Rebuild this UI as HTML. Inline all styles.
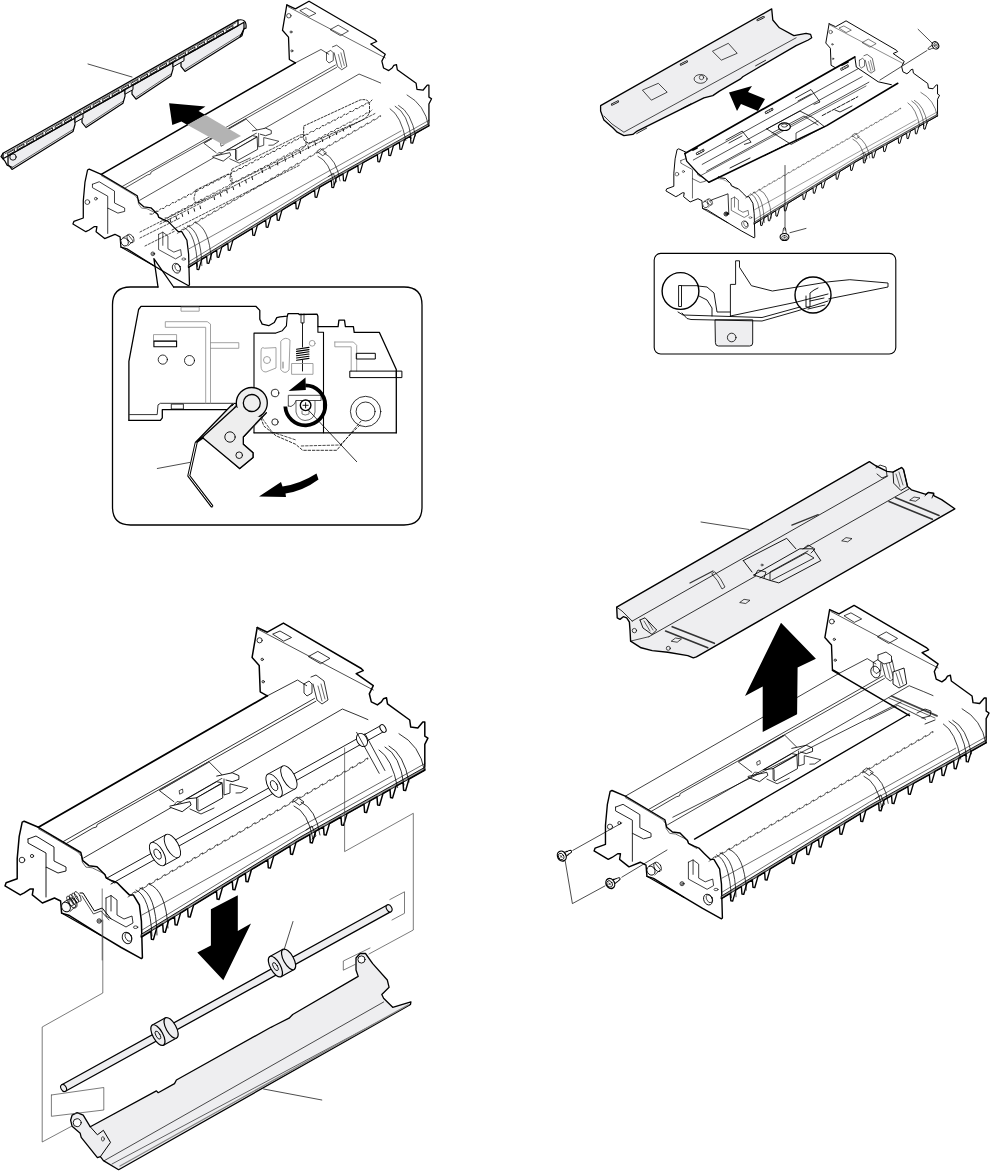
<!DOCTYPE html>
<html><head><meta charset="utf-8"><style>
html,body{margin:0;padding:0;background:#fff;}
svg{display:block;}
</style></head><body>
<svg width="990" height="1172" viewBox="0 0 990 1172" stroke-linejoin="round" stroke-linecap="round">
<defs><g id="fb"><path d="M257.2,627.5 L267.3,632.2 L283.4,623.1 L361.2,668.5 L363.2,670.6 L356.2,673.6 L373.3,685.7 L369.3,693.8 L371.3,701.9 L377.4,704.9 L381.4,701.9 L383.4,698.8 L386.5,697.8 L387.5,703.9 L409.7,720.0 L410.7,727.1 L417.8,728.1 L422.8,722.1 L424.8,722.1 L424.8,736.2 L427.9,738.2 L424.8,744.3 L424.8,766.5" fill="none" stroke="#000" stroke-width="1.5" />
<path d="M257.2,627.5 L252.1,657.4 L259.2,665.5 L260.2,691.8 L267.3,695.8" fill="none" stroke="#000" stroke-width="1.5" />
<path d="M258.5,629.5 L373.3,690.0" fill="none" stroke="#000" stroke-width="0.7" />
<circle cx="259.6" cy="640.3" r="2.6" fill="none" stroke="#000" stroke-width="0.8"/>
<circle cx="262.2" cy="659.4" r="1.2" fill="none" stroke="#000" stroke-width="0.8"/>
<circle cx="263.2" cy="681.7" r="1.2" fill="none" stroke="#000" stroke-width="0.8"/>
<path d="M308.7,656.4 L317.8,651.4 L329.9,658.4 L320.8,663.5 Z" fill="none" stroke="#000" stroke-width="0.8" />
<path d="M273.0,634.0 L280.0,631.0 L291.5,637.5 L284.0,641.0 Z" fill="none" stroke="#000" stroke-width="0.8" />
<path d="M24.2,821.2 L22.2,822.2 L19.2,836.4 L17.2,858.6 L17.2,878.8 L6.1,882.8 L5.0,885.9 L20.2,894.9 L24.2,892.9 L30.3,888.9 L33.3,888.9 L32.3,894.9 L42.4,903.0 L54.5,898.0 L60.6,901.0 L61.6,913.1 L68.7,915.2 L101.0,935.4 L121.2,947.5 L141.4,958.6 L142.4,957.6 L141.4,921.2 L139.4,905.0 L133.3,894.9 L129.3,894.9 L123.2,888.9 L117.2,882.8 L112.1,880.8 L106.1,877.8 L105.0,874.7 L97.0,866.7 L88.9,865.7 L82.8,860.6 L80.8,852.5 L38.4,827.3 Z" fill="#fff" stroke="#000" stroke-width="1.5" />
<path d="M28.0,839.0 L36.0,836.0 L54.0,847.0 L54.0,861.0 L66.0,867.0 L66.0,871.0 L58.0,873.0 L46.0,867.0 L46.0,897.0" fill="none" stroke="#000" stroke-width="0.9" />
<path d="M28.0,839.0 L28.0,843.0 L46.0,853.0 L46.0,867.0" fill="none" stroke="#000" stroke-width="0.9" />
<circle cx="22" cy="860" r="2.8" fill="none" stroke="#000" stroke-width="0.8"/>
<circle cx="32" cy="856" r="1.6" fill="none" stroke="#000" stroke-width="0.8"/>
<path d="M141.4,937.0 L300.0,840.0 L425.0,770.0 L425.0,767.2 L300.0,837.2 L141.4,934.2 Z" fill="#9a9a9a" stroke="#000" stroke-width="0.9" />
<path d="M141.4,937.0 L150.8,931.3 L151.4,939.3 L153.4,939.6 L156.8,927.6 L162.7,924.0 L163.3,932.0 L165.3,932.3 L168.7,920.3 L174.5,916.8 L175.1,924.8 L177.1,925.1 L180.5,913.1 L187.6,908.7 L188.2,916.7 L190.2,917.0 L193.6,905.1 L216.5,891.1 L217.1,899.1 L219.1,899.4 L222.5,887.4 L232.3,881.4 L232.9,889.4 L234.9,889.7 L238.3,877.7 L245.4,873.4 L246.0,881.4 L248.0,881.7 L251.4,869.7 L267.7,859.8 L268.3,867.8 L270.3,868.1 L273.7,856.1 L290.0,846.1 L290.6,854.1 L292.6,854.4 L296.0,842.4 L309.7,834.6 L310.3,842.6 L312.3,842.9 L315.7,831.2 L323.5,826.8 L324.1,834.8 L326.1,835.1 L329.5,823.5 L341.0,817.0 L341.6,825.0 L343.6,825.3 L347.0,813.7 L364.0,804.2 L364.6,812.2 L366.6,812.5 L370.0,800.8 L377.0,796.9 L377.6,804.9 L379.6,805.2 L383.0,793.5 L390.0,789.6 L390.6,797.6 L392.6,797.9 L396.0,786.2 L403.0,782.3 L403.6,790.3 L405.6,790.6 L409.0,779.0 L425.0,770.0" fill="none" stroke="#000" stroke-width="1.5" />
<path d="M142.0,930.1 L300.0,833.5 L425.0,763.5" fill="none" stroke="#000" stroke-width="0.6" />
<path d="M136,890 Q150,896 152,936" fill="none" stroke="#000" stroke-width="0.8" />
<path d="M140,888 Q156,893 157,935" fill="none" stroke="#000" stroke-width="0.8" />
<path d="M149,884 Q166,890 168,928" fill="none" stroke="#000" stroke-width="0.8" />
<path d="M379,750 Q392,758 397.6,787.5" fill="none" stroke="#000" stroke-width="0.8" />
<path d="M385,747 Q400,755 404,785" fill="none" stroke="#000" stroke-width="0.8" />
<path d="M389,746 Q404,754 409,782" fill="none" stroke="#000" stroke-width="0.8" />
<path d="M399,733.7 Q420,745 424.5,770.5" fill="none" stroke="#000" stroke-width="0.8" />
<path d="M294,806 Q308,812 313,839" fill="none" stroke="#000" stroke-width="0.8" />
<path d="M301,802 Q316,809 320,835" fill="none" stroke="#000" stroke-width="0.8" />
<path d="M293.0,800.0 L297.0,797.0 L304.0,802.0 L300.0,805.0 Z" fill="none" stroke="#000" stroke-width="0.8" />
<path d="M306.0,830.0 L312.0,826.0 L316.0,836.0 L312.0,839.0" fill="none" stroke="#000" stroke-width="0.8" />
<path d="M128.0,897.0 L132.1,894.6 L132.4,893.2 L135.2,891.6 L134.9,893.0 L135.5,892.7 L139.6,890.3 L139.9,888.9 L142.7,887.3 L142.4,888.7 L143.0,888.4 L147.1,886.0 L147.4,884.6 L150.2,883.0 L149.9,884.4 L150.5,884.1 L154.6,881.7 L154.9,880.3 L157.7,878.7 L157.4,880.1 L158.0,879.8 L162.1,877.4 L162.4,876.0 L165.2,874.4 L164.9,875.8 L165.5,875.4 L169.6,873.1 L169.9,871.7 L172.7,870.1 L172.4,871.5 L173.0,871.1 L177.1,868.8 L177.4,867.4 L180.2,865.8 L179.9,867.2 L180.5,866.8 L184.6,864.4 L184.9,863.0 L187.7,861.4 L187.4,862.8 L188.0,862.5 L192.1,860.1 L192.4,858.7 L195.2,857.1 L194.9,858.5 L195.5,858.2 L199.6,855.8 L199.9,854.4 L202.7,852.8 L202.4,854.2 L203.0,853.9 L207.1,851.5 L207.4,850.1 L210.2,848.5 L209.9,849.9 L210.5,849.6 L214.6,847.2 L214.9,845.8 L217.7,844.2 L217.4,845.6 L218.0,845.2 L222.1,842.9 L222.4,841.5 L225.2,839.9 L224.9,841.3 L225.5,840.9 L229.6,838.6 L229.9,837.2 L232.7,835.6 L232.4,837.0 L233.0,836.6 L237.1,834.3 L237.4,832.9 L240.2,831.3 L239.9,832.7 L240.5,832.3 L244.6,829.9 L244.9,828.5 L247.7,826.9 L247.4,828.3 L248.0,828.0 L252.1,825.6 L252.4,824.2 L255.2,822.6 L254.9,824.0 L255.5,823.7 L259.6,821.3 L259.9,819.9 L262.7,818.3 L262.4,819.7 L263.0,819.4 L267.1,817.0 L267.4,815.6 L270.2,814.0 L269.9,815.4 L270.5,815.1 L274.6,812.7 L274.9,811.3 L277.7,809.7 L277.4,811.1 L278.0,810.8 L282.1,808.4 L282.4,807.0 L285.2,805.4 L284.9,806.8 L285.5,806.4 L289.6,804.1 L289.9,802.7 L292.7,801.1 L292.4,802.5 L293.0,802.1 L297.1,799.8 L297.4,798.4 L300.2,796.8 L299.9,798.2 L300.5,797.8 L304.6,795.4 L304.9,794.0 L307.7,792.4 L307.4,793.8 L308.0,793.5 L312.1,791.1 L312.4,789.7 L315.2,788.1 L314.9,789.5 L315.5,789.2 L319.6,786.8 L319.9,785.4 L322.7,783.8 L322.4,785.2 L323.0,784.9 L327.1,782.5 L327.4,781.1 L330.2,779.5 L329.9,780.9 L330.5,780.6 L334.6,778.2 L334.9,776.8 L337.7,775.2 L337.4,776.6 L338.0,776.2 L342.1,773.9 L342.4,772.5 L345.2,770.9 L344.9,772.3 L345.5,771.9 L349.6,769.6 L349.9,768.2 L352.7,766.6 L352.4,768.0 L353.0,767.6 L357.1,765.3 L357.4,763.9 L360.2,762.3 L359.9,763.7 L360.5,763.3 L364.6,760.9 L364.9,759.5 L367.7,757.9 L367.4,759.3 L368.0,759.0" fill="none" stroke="#000" stroke-width="0.65" />
<path d="M142.0,915.0 L392.0,776.0" fill="none" stroke="#000" stroke-width="0.6" />
<ellipse cx="66" cy="907" rx="4.2" ry="5" transform="rotate(-30 66 907)" fill="#fff" stroke="#000" stroke-width="0.9"/>
<path d="M64.0,902.0 L70.0,898.5 L76.0,906.0 L70.0,911.5" fill="none" stroke="#000" stroke-width="0.8" />
<ellipse cx="73" cy="903" rx="3.5" ry="5.5" transform="rotate(-30 73 903)" fill="none" stroke="#000" stroke-width="0.8"/>
<circle cx="99.2" cy="921" r="2.2" fill="none" stroke="#000" stroke-width="0.8"/>
<circle cx="99.2" cy="921" r="1.1" fill="none" stroke="#000" stroke-width="0.6"/>
<path d="M106.0,898.0 L111.0,895.5 L117.0,900.0 L117.0,915.0 L124.0,919.0 L132.0,916.0 L133.0,923.0 L126.0,927.0 L106.0,916.0 L106.0,898.0" fill="none" stroke="#000" stroke-width="0.8" />
<path d="M111.0,895.5 L111.0,911.0" fill="none" stroke="#000" stroke-width="0.8" />
<ellipse cx="127" cy="938" rx="4.5" ry="6" transform="rotate(-25 127 938)" fill="none" stroke="#000" stroke-width="0.9"/>
<ellipse cx="128.5" cy="937" rx="3" ry="4.5" transform="rotate(-25 128.5 937)" fill="none" stroke="#000" stroke-width="0.7"/>
<ellipse cx="135.6" cy="927.2" rx="2.2" ry="1.3" fill="none" stroke="#000" stroke-width="0.7"/>
<path d="M61.6,913.1 L101.0,935.4" fill="none" stroke="#000" stroke-width="1.2" />
<path d="M38.5,828.9 L49.8,835.3 L78.1,852.2 L81.6,856.5 L82.3,862.1 L85.9,867.1 L92.2,867.8 L105.0,874.1 L106.4,878.4 L114.9,883.3" fill="none" stroke="#000" stroke-width="0.6" /></g><g id="fc"><path d="M38.4,827.3 L267.3,695.8" fill="none" stroke="#000" stroke-width="1.8" />
<path d="M63.2,841.6 L314.5,698.4" fill="none" stroke="#000" stroke-width="0.8" />
<path d="M66.0,843.7 L92.9,828.0 L96.5,827.0 L97.2,824.5 L315.9,701.2" fill="none" stroke="#000" stroke-width="0.8" />
<path d="M83.7,857.9 L342.4,709.0 L358.0,715.4 L367.9,719.6" fill="none" stroke="#000" stroke-width="0.8" />
<path d="M267.8,695.6 L297.5,680.0 L306.7,685.7" fill="none" stroke="#000" stroke-width="0.8" />
<path d="M304.0,684.0 L309.0,681.0 L312.0,684.0 L312.0,693.0 L307.0,696.0 L304.0,693.0 L304.0,684.0" fill="none" stroke="#000" stroke-width="0.8" />
<path d="M311.0,677.0 L316.0,675.0 L324.0,681.0 L328.0,700.0 L322.0,704.0 L317.0,700.0 L313.0,684.0" fill="none" stroke="#000" stroke-width="0.8" />
<path d="M318.0,686.0 L322.0,701.0" fill="none" stroke="#000" stroke-width="0.6" />
<path d="M321.0,684.0 L325.0,699.0" fill="none" stroke="#000" stroke-width="0.6" /></g><g id="fc3"><path d="M38.4,827.3 L267.3,695.8" fill="none" stroke="#000" stroke-width="0.8" />
<path d="M63.2,841.6 L314.5,698.4" fill="none" stroke="#000" stroke-width="0.8" />
<path d="M66.0,843.7 L92.9,828.0 L96.5,827.0 L97.2,824.5 L315.9,701.2" fill="none" stroke="#000" stroke-width="0.8" />
<path d="M83.7,857.9 L342.4,709.0 L358.0,715.4 L367.9,719.6" fill="none" stroke="#000" stroke-width="0.8" />
<path d="M267.8,695.6 L297.5,680.0 L306.7,685.7" fill="none" stroke="#000" stroke-width="0.8" />
<path d="M304.0,684.0 L309.0,681.0 L312.0,684.0 L312.0,693.0 L307.0,696.0 L304.0,693.0 L304.0,684.0" fill="none" stroke="#000" stroke-width="0.8" />
<path d="M311.0,677.0 L316.0,675.0 L324.0,681.0 L328.0,700.0 L322.0,704.0 L317.0,700.0 L313.0,684.0" fill="none" stroke="#000" stroke-width="0.8" />
<path d="M318.0,686.0 L322.0,701.0" fill="none" stroke="#000" stroke-width="0.6" />
<path d="M321.0,684.0 L325.0,699.0" fill="none" stroke="#000" stroke-width="0.6" /></g><g id="fm"><path d="M173.9,801.7 L159.4,790.6 L208.9,761.7 L222.2,775.0" fill="none" stroke="#000" stroke-width="0.8" />
<path d="M161.0,789.5 L208.0,762.5" fill="none" stroke="#444" stroke-width="1.4" />
<path d="M179.5,790.5 L182.5,789.0 L183.0,792.5 L180.0,794.0 Z" fill="none" stroke="#000" stroke-width="0.7" />
<path d="M186.7,798.9 L216.7,781.7 L222.2,782.8 L196.7,797.8 L186.7,798.9" fill="#fff" stroke="#000" stroke-width="0.9" />
<path d="M196.7,797.8 L222.2,783.3 L222.8,797.8 L198.9,811.1 L196.7,809.4 L196.7,797.8" fill="#fff" stroke="#000" stroke-width="0.9" />
<path d="M198.0,799.0 L198.0,810.0" fill="none" stroke="#000" stroke-width="0.6" />
<path d="M170.0,806.1 L190.0,801.7 L191.1,805.0 L182.2,811.7 L170.0,807.2" fill="#fff" stroke="#000" stroke-width="0.9" />
<path d="M174.0,805.0 L177.0,801.5 L181.0,802.0" fill="none" stroke="#000" stroke-width="0.7" />
<path d="M216.7,776.1 L232.2,772.8 L238.9,775.6 L238.9,779.4 L232.2,781.7 L226.0,780.0" fill="#fff" stroke="#000" stroke-width="0.9" />
<path d="M224.0,779.0 L224.0,795.0 L230.0,793.0 L230.0,783.9 L247.8,788.3 L241.1,792.8 L236.0,793.0" fill="none" stroke="#000" stroke-width="0.8" />
<path d="M190.0,809.0 L201.0,814.0 L214.0,808.0" fill="none" stroke="#000" stroke-width="0.8" /></g></defs>
<use href="#fb" transform="matrix(1.0,0,0,1.0,0,0)"/>
<use href="#fb" transform="matrix(0.848,0,0,0.848,68.7,-527.2)"/>
<use href="#fb" transform="matrix(0.934,0,0,0.934,589.4,23.5)"/>
<use href="#fb" transform="matrix(0.647,0,0,0.647,662.7,-382.3)"/>
<use href="#fc" transform="matrix(1.0,0,0,1.0,0,0)"/>
<use href="#fc" transform="matrix(0.848,0,0,0.848,68.7,-527.2)"/>
<use href="#fm" transform="matrix(1.0,0,0,1.0,0,0)"/>
<use href="#fm" transform="matrix(0.848,0,0,0.848,68.7,-527.2)"/>
<use href="#fm" transform="matrix(0.934,0,0,0.934,589.4,23.5)"/>
<use href="#fc3" transform="matrix(0.934,0,0,0.934,589.4,23.5)"/>
<g transform="matrix(0.934,0,0,0.934,589.4,23.5)"><path d="M112.6,873.2 L342.3,739.3" fill="none" stroke="#000" stroke-width="1.5" /><path d="M89.3,849.8 L333.8,726.4" fill="none" stroke="#000" stroke-width="0.8" /><path d="M300.0,745.0 L330.0,730.0 L360.0,745.0" fill="none" stroke="#000" stroke-width="0.8" /></g>
<path d="M832.4,670.3 L909.5,715.6" fill="none" stroke="#000" stroke-width="1.5" />
<path d="M891.5,696.0 L937.0,715.8" fill="none" stroke="#444" stroke-width="1.8" />
<path d="M889.0,698.0 L935.0,718.0" fill="none" stroke="#000" stroke-width="0.6" />
<path d="M893.0,672.0 L904.0,668.0 L906.7,684.0 L899.0,688.0 L893.0,684.0 L893.0,672.0" fill="#fff" stroke="#000" stroke-width="0.9" />
<path d="M896.0,673.0 L900.0,686.0" fill="none" stroke="#000" stroke-width="0.6" />
<path d="M899.0,671.0 L903.0,684.0" fill="none" stroke="#000" stroke-width="0.6" />
<path d="M878.0,655.0 L886.0,652.0 L891.5,656.0 L891.5,662.0 L884.0,664.0 L878.0,660.0 L878.0,655.0" fill="#fff" stroke="#000" stroke-width="0.8" />
<ellipse cx="875.5" cy="672" rx="4.5" ry="6" transform="rotate(-20 875.5 672)" fill="none" stroke="#000" stroke-width="0.8"/>
<path d="M917.0,713.0 L925.0,709.0 L931.0,711.0 L930.0,716.0 L922.0,718.0" fill="none" stroke="#000" stroke-width="0.8" />
<path d="M925.0,724.0 L935.0,720.0" fill="none" stroke="#000" stroke-width="0.8" />
<path d="M684.9,153.5 L854.8,56.9 L856.3,67.1 L878.2,81.8 L891.4,84.7 L708.3,181.4 L718.6,182.8 L706.9,179.9 L687.8,165.3 L684.9,153.5" fill="#fff" stroke="#fff" stroke-width="0.2" />
<path d="M684.9,153.5 L854.8,56.9" fill="none" stroke="#000" stroke-width="1.7" />
<path d="M854.8,56.9 L856.3,67.1 L878.2,81.8 L891.4,84.7" fill="none" stroke="#000" stroke-width="1.0" />
<path d="M708.9,182.2 L826.7,125.6 L897.8,83.3" fill="none" stroke="#000" stroke-width="1.6" />
<path d="M684.9,153.5 L686.7,161.1 L697.8,173.3 L708.9,182.2" fill="none" stroke="#000" stroke-width="1.3" />
<path d="M693.3,160.0 L857.8,68.9" fill="none" stroke="#000" stroke-width="0.7" />
<path d="M702.2,164.4 L862.2,76.7" fill="none" stroke="#000" stroke-width="0.7" />
<path d="M706.7,171.1 L868.9,82.2" fill="none" stroke="#000" stroke-width="0.7" />
<path d="M700.0,176.0 L866.0,86.0" fill="none" stroke="#000" stroke-width="0.6" />
<path d="M696.5,152.9 L703.5,149.1 L704.2,150.9 L697.2,154.7 Z" fill="none" stroke="#000" stroke-width="0.8" />
<path d="M698.0,152.7 L699.0,154.1" fill="none" stroke="#000" stroke-width="0.6" />
<path d="M700.3,151.5 L701.3,152.9" fill="none" stroke="#000" stroke-width="0.6" />
<path d="M702.5,150.3 L703.4,151.7" fill="none" stroke="#000" stroke-width="0.6" />
<path d="M765.4,111.8 L772.4,108.0 L773.1,109.8 L766.1,113.6 Z" fill="none" stroke="#000" stroke-width="0.8" />
<path d="M766.9,111.6 L767.9,113.0" fill="none" stroke="#000" stroke-width="0.6" />
<path d="M769.2,110.4 L770.2,111.8" fill="none" stroke="#000" stroke-width="0.6" />
<path d="M771.4,109.2 L772.3,110.6" fill="none" stroke="#000" stroke-width="0.6" />
<path d="M840.9,68.5 L847.9,64.7 L848.6,66.5 L841.6,70.3 Z" fill="none" stroke="#000" stroke-width="0.8" />
<path d="M842.4,68.3 L843.4,69.7" fill="none" stroke="#000" stroke-width="0.6" />
<path d="M844.7,67.1 L845.7,68.5" fill="none" stroke="#000" stroke-width="0.6" />
<path d="M846.9,65.9 L847.8,67.3" fill="none" stroke="#000" stroke-width="0.6" />
<path d="M726.0,140.0 L742.2,131.1 L751.1,142.2 L744.4,144.4" fill="none" stroke="#000" stroke-width="0.8" />
<path d="M729.0,143.0 L742.0,136.0" fill="none" stroke="#000" stroke-width="0.8" />
<path d="M795.6,98.0 L811.0,89.5 L820.0,102.0 L814.0,104.4" fill="none" stroke="#000" stroke-width="0.8" />
<path d="M798.0,101.0 L811.0,94.0" fill="none" stroke="#000" stroke-width="0.8" />
<path d="M822.2,115.6 L857.8,96.7" fill="none" stroke="#000" stroke-width="0.9" stroke-dasharray="4 1.5"/>
<path d="M764.4,155.6 L786.7,144.4" fill="none" stroke="#000" stroke-width="0.9" stroke-dasharray="4 1.5"/>
<path d="M730.0,168.0 L750.0,158.0" fill="none" stroke="#000" stroke-width="0.9" />
<path d="M835.0,110.0 L840.0,112.0 L852.0,106.0" fill="none" stroke="#000" stroke-width="0.8" />
<path d="M766.7,128.9 L800.0,111.1 L813.3,117.8 L824.4,126.7 L791.1,144.4 L766.7,128.9" fill="none" stroke="#000" stroke-width="0.8" />
<path d="M772.0,133.0 L804.0,116.0 L818.0,125.0" fill="none" stroke="#000" stroke-width="0.7" />
<path d="M796.0,141.0 L796.0,133.0 L818.0,121.0" fill="none" stroke="#000" stroke-width="0.7" />
<ellipse cx="784.4" cy="126.7" rx="6" ry="3.8" fill="#fff" stroke="#000" stroke-width="1.2"/>
<ellipse cx="784.4" cy="125.5" rx="3" ry="1.6" fill="none" stroke="#000" stroke-width="0.7"/>
<path d="M693.0,150.0 L697.0,148.0" fill="none" stroke="#000" stroke-width="1.8" />
<path d="M842.0,65.0 L848.0,62.0" fill="none" stroke="#000" stroke-width="1.8" />
<g transform="matrix(0.647,0,0,0.647,662.7,-382.3)"><path d="M304.0,684.0 L309.0,681.0 L312.0,684.0 L312.0,693.0 L307.0,696.0 L304.0,693.0 L304.0,684.0" fill="#fff" stroke="#000" stroke-width="0.9" /><path d="M311.0,677.0 L316.0,675.0 L324.0,681.0 L328.0,700.0 L322.0,704.0 L317.0,700.0 L313.0,684.0" fill="#fff" stroke="#000" stroke-width="0.9" /><path d="M318.0,686.0 L322.0,701.0" fill="none" stroke="#000" stroke-width="0.7" /><path d="M321.0,684.0 L325.0,699.0" fill="none" stroke="#000" stroke-width="0.7" /></g>
<path d="M713.0,199.4 L728.0,193.8 L728.8,214.3" fill="none" stroke="#000" stroke-width="0.8" />
<circle cx="726" cy="214" r="2.0" fill="none" stroke="#000" stroke-width="0.9"/>
<circle cx="726" cy="214" r="0.9" fill="none" stroke="#000" stroke-width="0.6"/>
<path d="M712.5,199.6 L710.0,201.0" fill="none" stroke="#000" stroke-width="0.8" />
<path d="M150.0,214.0 L152.8,214.2 L155.6,211.2 L158.3,211.3 L161.1,208.3 L163.9,208.5 L166.7,205.4 L169.4,205.6 L172.2,202.6 L175.0,202.8 L177.8,199.8 L180.5,199.9 L183.3,196.9 L186.1,197.1 L188.8,194.1 L191.6,194.2 L194.4,191.2 L197.2,191.4 L199.9,188.3 L202.7,188.5 L205.5,185.5 L208.3,185.7 L211.1,182.7 L213.8,182.8 L216.6,179.8 L219.4,180.0 L222.2,176.9 L224.9,177.1 L227.7,174.1 L230.5,174.3 L233.2,171.2 L236.0,171.4 L238.8,168.4 L241.6,168.6 L244.3,165.6 L247.1,165.7 L249.9,162.7 L252.7,162.9 L255.4,159.8 L258.2,160.0 L261.0,157.0 L263.8,157.2 L266.6,154.2 L269.3,154.3 L272.1,151.3 L274.9,151.5 L277.6,148.4 L280.4,148.6 L283.2,145.6 L286.0,145.8 L288.8,142.8 L291.5,142.9 L294.3,139.9 L297.1,140.1 L299.9,137.1 L302.6,137.2 L305.4,134.2 L308.2,134.4 L310.9,131.4 L313.7,131.5 L316.5,128.5 L319.3,128.7 L322.1,125.6 L324.8,125.8 L327.6,122.8 L330.4,123.0 L333.1,120.0 L335.9,120.1 L338.7,117.1 L341.5,117.3 L344.2,114.2 L347.0,114.4 L349.8,111.4 L352.6,111.6 L355.4,108.5 L358.1,108.7 L360.9,105.7 L363.7,105.9 L366.4,102.9 L369.2,103.0 L372.0,100.0" fill="none" stroke="#000" stroke-width="0.8" stroke-dasharray="2.2 1.6"/>
<path d="M165.0,218.0 L168.0,217.8 L170.9,214.9 L173.9,214.7 L176.8,211.8 L179.8,211.6 L182.7,208.7 L185.7,208.5 L188.7,205.7 L191.6,205.4 L194.6,202.6 L197.5,202.3 L200.5,199.5 L203.4,199.2 L206.4,196.4 L209.4,196.2 L212.3,193.3 L215.3,193.1 L218.2,190.2 L221.2,190.0 L224.1,187.1 L227.1,186.9 L230.1,184.1 L233.0,183.8 L236.0,181.0 L238.9,180.7 L241.9,177.9 L244.8,177.6 L247.8,174.8 L250.8,174.6 L253.7,171.7 L256.7,171.5 L259.6,168.6 L262.6,168.4 L265.5,165.5 L268.5,165.3 L271.5,162.5 L274.4,162.2 L277.4,159.4 L280.3,159.1 L283.3,156.3 L286.2,156.0 L289.2,153.2 L292.2,153.0 L295.1,150.1 L298.1,149.9 L301.0,147.0 L304.0,146.8 L306.9,143.9 L309.9,143.7 L312.9,140.9 L315.8,140.6 L318.8,137.8 L321.7,137.5 L324.7,134.7 L327.6,134.4 L330.6,131.6 L333.6,131.4 L336.5,128.5 L339.5,128.3 L342.4,125.4 L345.4,125.2 L348.3,122.3 L351.3,122.1 L354.3,119.3 L357.2,119.0 L360.2,116.2 L363.1,115.9 L366.1,113.1 L369.0,112.8 L372.0,110.0" fill="none" stroke="#000" stroke-width="0.7" stroke-dasharray="2.2 1.6"/>
<path d="M160.0,224.0 L376.0,113.0" fill="none" stroke="#000" stroke-width="0.7" stroke-dasharray="2.2 1.6"/>
<path d="M172.0,230.0 L300.0,165.0" fill="none" stroke="#000" stroke-width="0.7" stroke-dasharray="2.2 1.6"/>
<path d="M303.8,126 L360,100 Q370,98 369.5,106 L369.5,112 Q368,118 360,121 L312,142.5 Q303,144 303.5,136 Z" fill="none" stroke="#000" stroke-width="0.8" stroke-dasharray="2.2 1.6"/>
<path d="M232,169 L300,135 Q306,133 306,139 L306,144 Q305,148 300,150 L236,182 Q230,184 230,178 Z" fill="none" stroke="#000" stroke-width="0.7" stroke-dasharray="2.2 1.6"/>
<path d="M196,190 L226,175 Q232,173 232,179 L232,183 Q231,187 226,189 L200,202 Q194,204 194,198 Z" fill="none" stroke="#000" stroke-width="0.7" stroke-dasharray="2.2 1.6"/>
<path d="M170.0,219.0 L170.6,221.6" fill="none" stroke="#000" stroke-width="0.9" />
<path d="M176.0,216.4 L176.6,219.0" fill="none" stroke="#000" stroke-width="0.9" />
<path d="M182.0,213.8 L182.6,216.4" fill="none" stroke="#000" stroke-width="0.9" />
<path d="M188.0,211.2 L188.6,213.8" fill="none" stroke="#000" stroke-width="0.9" />
<path d="M194.0,208.6 L194.6,211.2" fill="none" stroke="#000" stroke-width="0.9" />
<path d="M200.0,206.0 L200.6,208.6" fill="none" stroke="#000" stroke-width="0.9" />
<path d="M214.0,197.0 L214.6,199.6" fill="none" stroke="#000" stroke-width="0.9" />
<path d="M220.3,193.7 L220.9,196.3" fill="none" stroke="#000" stroke-width="0.9" />
<path d="M226.7,190.3 L227.3,192.9" fill="none" stroke="#000" stroke-width="0.9" />
<path d="M233.0,187.0 L233.6,189.6" fill="none" stroke="#000" stroke-width="0.9" />
<path d="M239.3,183.7 L239.9,186.3" fill="none" stroke="#000" stroke-width="0.9" />
<path d="M245.7,180.3 L246.3,182.9" fill="none" stroke="#000" stroke-width="0.9" />
<path d="M252.0,177.0 L252.6,179.6" fill="none" stroke="#000" stroke-width="0.9" />
<path d="M262.0,170.0 L262.6,172.6" fill="none" stroke="#000" stroke-width="0.9" />
<path d="M269.6,166.2 L270.2,168.8" fill="none" stroke="#000" stroke-width="0.9" />
<path d="M277.2,162.4 L277.8,165.0" fill="none" stroke="#000" stroke-width="0.9" />
<path d="M284.8,158.6 L285.4,161.2" fill="none" stroke="#000" stroke-width="0.9" />
<path d="M292.4,154.8 L293.0,157.4" fill="none" stroke="#000" stroke-width="0.9" />
<path d="M300.0,151.0 L300.6,153.6" fill="none" stroke="#000" stroke-width="0.9" />
<path d="M308.0,146.0 L308.6,148.6" fill="none" stroke="#000" stroke-width="0.9" />
<path d="M315.0,142.5 L315.6,145.1" fill="none" stroke="#000" stroke-width="0.9" />
<path d="M322.0,139.0 L322.6,141.6" fill="none" stroke="#000" stroke-width="0.9" />
<path d="M329.0,135.5 L329.6,138.1" fill="none" stroke="#000" stroke-width="0.9" />
<path d="M336.0,132.0 L336.6,134.6" fill="none" stroke="#000" stroke-width="0.9" />
<path d="M343.0,128.5 L343.6,131.1" fill="none" stroke="#000" stroke-width="0.9" />
<path d="M350.0,125.0 L350.6,127.6" fill="none" stroke="#000" stroke-width="0.9" />
<path d="M140.0,232.0 L205.0,199.0" fill="none" stroke="#000" stroke-width="0.7" stroke-dasharray="2.2 1.6"/>
<path d="M140.0,238.0 L180.0,218.0" fill="none" stroke="#000" stroke-width="0.7" stroke-dasharray="2.2 1.6"/>
<path d="M145.0,246.0 L175.0,231.0" fill="none" stroke="#000" stroke-width="0.7" stroke-dasharray="2.2 1.6"/>
<path d="M8.0,156.0 L75.0,118.0 L75.0,124.5 L73.0,131.5 L12.0,169.5 L8.0,164.5 Z" fill="#eeeef0" stroke="#000" stroke-width="1.2" />
<path d="M12.0,167.5 L73.0,129.5" fill="none" stroke="#000" stroke-width="0.6" />
<path d="M82.0,114.0 L125.0,89.7 L125.0,96.2 L123.0,103.2 L86.0,127.5 L82.0,122.5 Z" fill="#eeeef0" stroke="#000" stroke-width="1.2" />
<path d="M86.0,125.5 L123.0,101.2" fill="none" stroke="#000" stroke-width="0.6" />
<path d="M132.0,85.7 L173.0,62.4 L173.0,68.9 L171.0,75.9 L136.0,99.2 L132.0,94.2 Z" fill="#eeeef0" stroke="#000" stroke-width="1.2" />
<path d="M136.0,97.2 L171.0,73.9" fill="none" stroke="#000" stroke-width="0.6" />
<path d="M181.0,57.9 L244.0,22.2 L244.0,28.7 L242.0,35.7 L185.0,71.4 L181.0,66.4 Z" fill="#eeeef0" stroke="#000" stroke-width="1.2" />
<path d="M185.0,69.4 L242.0,33.7" fill="none" stroke="#000" stroke-width="0.6" />
<path d="M75.0,118.0 L75.0,122.5 L83.0,118.0 L83.0,113.5" fill="#eeeef0" stroke="#000" stroke-width="1.0" />
<path d="M125.0,89.7 L125.0,94.2 L133.0,89.6 L133.0,85.1" fill="#eeeef0" stroke="#000" stroke-width="1.0" />
<path d="M173.0,62.4 L173.0,66.9 L184.0,60.7 L184.0,56.2" fill="#eeeef0" stroke="#000" stroke-width="1.0" />
<path d="M3.0,153.3 L238.0,20.1 L238.0,25.6 L3.0,158.8 Z" fill="#fff" stroke="#000" stroke-width="1.3" />
<path d="M5.0,153.8 L236.0,22.8" fill="none" stroke="#000" stroke-width="0.6" />
<path d="M8.0,153.1 L14.5,149.4 L14.5,151.4 L8.0,155.1 Z" fill="none" stroke="#000" stroke-width="0.8" />
<path d="M17.5,147.7 L24.0,144.0 L24.0,146.0 L17.5,149.7 Z" fill="none" stroke="#000" stroke-width="0.8" />
<path d="M27.0,142.3 L33.5,138.6 L33.5,140.6 L27.0,144.3 Z" fill="none" stroke="#000" stroke-width="0.8" />
<path d="M36.5,136.9 L43.0,133.3 L43.0,135.3 L36.5,138.9 Z" fill="none" stroke="#000" stroke-width="0.8" />
<path d="M46.0,131.6 L52.5,127.9 L52.5,129.9 L46.0,133.6 Z" fill="none" stroke="#000" stroke-width="0.8" />
<path d="M55.5,126.2 L62.0,122.5 L62.0,124.5 L55.5,128.2 Z" fill="none" stroke="#000" stroke-width="0.8" />
<path d="M65.0,120.8 L71.5,117.1 L71.5,119.1 L65.0,122.8 Z" fill="none" stroke="#000" stroke-width="0.8" />
<path d="M74.5,115.4 L81.0,111.7 L81.0,113.7 L74.5,117.4 Z" fill="none" stroke="#000" stroke-width="0.8" />
<path d="M84.0,110.0 L90.5,106.3 L90.5,108.3 L84.0,112.0 Z" fill="none" stroke="#000" stroke-width="0.8" />
<path d="M93.5,104.6 L100.0,100.9 L100.0,102.9 L93.5,106.6 Z" fill="none" stroke="#000" stroke-width="0.8" />
<path d="M103.0,99.2 L109.5,95.6 L109.5,97.6 L103.0,101.2 Z" fill="none" stroke="#000" stroke-width="0.8" />
<path d="M112.5,93.8 L119.0,90.2 L119.0,92.2 L112.5,95.8 Z" fill="none" stroke="#000" stroke-width="0.8" />
<path d="M122.0,88.5 L128.5,84.8 L128.5,86.8 L122.0,90.5 Z" fill="none" stroke="#000" stroke-width="0.8" />
<path d="M131.5,83.1 L138.0,79.4 L138.0,81.4 L131.5,85.1 Z" fill="none" stroke="#000" stroke-width="0.8" />
<path d="M141.0,77.7 L147.5,74.0 L147.5,76.0 L141.0,79.7 Z" fill="none" stroke="#000" stroke-width="0.8" />
<path d="M150.5,72.3 L157.0,68.6 L157.0,70.6 L150.5,74.3 Z" fill="none" stroke="#000" stroke-width="0.8" />
<path d="M160.0,66.9 L166.5,63.2 L166.5,65.2 L160.0,68.9 Z" fill="none" stroke="#000" stroke-width="0.8" />
<path d="M169.5,61.5 L176.0,57.8 L176.0,59.8 L169.5,63.5 Z" fill="none" stroke="#000" stroke-width="0.8" />
<path d="M179.0,56.1 L185.5,52.5 L185.5,54.5 L179.0,58.1 Z" fill="none" stroke="#000" stroke-width="0.8" />
<path d="M188.5,50.8 L195.0,47.1 L195.0,49.1 L188.5,52.8 Z" fill="none" stroke="#000" stroke-width="0.8" />
<path d="M198.0,45.4 L204.5,41.7 L204.5,43.7 L198.0,47.4 Z" fill="none" stroke="#000" stroke-width="0.8" />
<path d="M207.5,40.0 L214.0,36.3 L214.0,38.3 L207.5,42.0 Z" fill="none" stroke="#000" stroke-width="0.8" />
<path d="M217.0,34.6 L223.5,30.9 L223.5,32.9 L217.0,36.6 Z" fill="none" stroke="#000" stroke-width="0.8" />
<path d="M226.5,29.2 L233.0,25.5 L233.0,27.5 L226.5,31.2 Z" fill="none" stroke="#000" stroke-width="0.8" />
<path d="M3.0,153.3 L1.0,156.5 L5.0,161.2 L7.0,165.1 L12.0,167.2" fill="none" stroke="#000" stroke-width="1.2" />
<circle cx="13" cy="157" r="3.2" fill="none" stroke="#000" stroke-width="0.9"/>
<path d="M238,20.09110000000004 Q247,18.09110000000004 246,28.09110000000004 L244,28.689100000000025 L240,36.957100000000025" fill="none" stroke="#000" stroke-width="1.2" />
<path d="M88.0,64.0 L132.0,77.0" fill="none" stroke="#000" stroke-width="0.7" />
<path d="M106.4,878.4 L380.0,726.0" fill="none" stroke="#000" stroke-width="0.9" />
<path d="M111.0,884.0 L383.0,732.0" fill="none" stroke="#000" stroke-width="0.9" />
<ellipse cx="383" cy="728.5" rx="2.6" ry="4.2" transform="rotate(-30 383 728.5)" fill="#fff" stroke="#000" stroke-width="1"/>
<path d="M163.8,865.5 L178.7,857.3 L166.2,834.5 L151.3,842.7 Z" fill="#fff" stroke="#000" stroke-width="0.9" />
<ellipse cx="172.4" cy="845.9" rx="6" ry="13" transform="rotate(-29 172.4 845.9)" fill="#fff" stroke="#000" stroke-width="0.9"/>
<ellipse cx="157.6" cy="854.1" rx="6" ry="13" transform="rotate(-29 157.6 854.1)" fill="#fff" stroke="#000" stroke-width="0.9"/>
<ellipse cx="157.6" cy="854.1" rx="3" ry="5.5" transform="rotate(-29 157.6 854.1)" fill="#fff" stroke="#000" stroke-width="0.8"/>
<path d="M280.3,797.0 L295.2,788.8 L282.7,766.0 L267.8,774.2 Z" fill="#fff" stroke="#000" stroke-width="0.9" />
<ellipse cx="288.9" cy="777.4" rx="6" ry="13" transform="rotate(-29 288.9 777.4)" fill="#fff" stroke="#000" stroke-width="0.9"/>
<ellipse cx="274.1" cy="785.6" rx="6" ry="13" transform="rotate(-29 274.1 785.6)" fill="#fff" stroke="#000" stroke-width="0.9"/>
<ellipse cx="274.1" cy="785.6" rx="3" ry="5.5" transform="rotate(-29 274.1 785.6)" fill="#fff" stroke="#000" stroke-width="0.8"/>
<ellipse cx="70.0" cy="901.0" rx="2.2" ry="5.5" transform="rotate(-30 70.0 901.0)" fill="none" stroke="#000" stroke-width="0.7"/>
<ellipse cx="72.6" cy="899.5" rx="2.2" ry="5.5" transform="rotate(-30 72.6 899.5)" fill="none" stroke="#000" stroke-width="0.7"/>
<ellipse cx="75.2" cy="898.0" rx="2.2" ry="5.5" transform="rotate(-30 75.2 898.0)" fill="none" stroke="#000" stroke-width="0.7"/>
<ellipse cx="77.8" cy="896.5" rx="2.2" ry="5.5" transform="rotate(-30 77.8 896.5)" fill="none" stroke="#000" stroke-width="0.7"/>
<path d="M80.0,893.0 L83.0,893.0 L94.4,911.0 L102.2,908.0 L111.0,918.9" fill="none" stroke="#000" stroke-width="1.0" />
<path d="M82.0,896.0 L93.5,914.0 L101.0,911.0 L109.0,920.0" fill="none" stroke="#000" stroke-width="0.7" />
<path d="M102.2,888.9 L102.2,960.0" fill="none" stroke="#444" stroke-width="0.7" />
<ellipse cx="362" cy="740" rx="5" ry="7" transform="rotate(-30 362 740)" fill="#fff" stroke="#000" stroke-width="0.9"/>
<path d="M356.6,732.3 L379.2,773.3" fill="none" stroke="#000" stroke-width="0.8" />
<path d="M365.0,733.7 L384.9,770.5" fill="none" stroke="#000" stroke-width="0.8" />
<path d="M205.0,114.7 L241.0,136.0 L223.6,145.0 L187.1,124.8 Z" fill="#b3b3b3" stroke="none" stroke-width="0" />
<path d="M169.1,103.2 L205.5,106.4 L198.6,110.9 L205.0,114.7 L187.1,124.8 L181.4,121.4 L172.3,125.0 Z" fill="#000" stroke="none" stroke-width="0" />
<path d="M729.0,92.5 L752.0,86.0 L748.0,92.0 L765.0,99.0 L758.0,111.0 L741.0,104.0 L737.0,111.0 Z" fill="#000" stroke="none" stroke-width="0" />
<path d="M781.0,622.7 L815.9,658.8 L797.6,667.6 L797.1,714.2 L762.7,732.0 L762.7,686.5 L745.0,695.9 Z" fill="#000" stroke="none" stroke-width="0" />
<path d="M210.9,909.3 L237.8,895.2 L237.8,931.1 L251.0,923.4 L223.3,980.2 L197.3,952.4 L210.9,945.6 Z" fill="#000" stroke="none" stroke-width="0" />
<path d="M158,287 L130.5,287 Q112.5,287 112.5,305 L112.5,507 Q112.5,525 130.5,525 L404,525 Q422,525 422,507 L422,305 Q422,287 404,287 L173.6,287" fill="none" stroke="#000" stroke-width="1.3" />
<path d="M158.0,287.0 L153.9,258.7 L173.6,287.0" fill="none" stroke="#000" stroke-width="1.3" />
<rect x="654.2" y="253.4" width="241.6" height="100.6" rx="6.5" fill="none" stroke="#000" stroke-width="1.1"/>
<path d="M600.6,105.6 L771.7,8.9 L772.8,20.0 L779.4,27.8 L793.9,35.6 L806.1,33.3 L810.6,34.4 L811.7,37.8 L808.3,40.0 L796.1,45.6 L742.8,76.7 L740.6,78.9 L719.4,91.1 L712.8,95.6 L703.9,97.8 L692.8,103.3 L637.2,131.1 L632.8,134.4 L623.9,135.6 L617.2,132.2 L612.8,127.8 L603.9,120.0 L600.6,111.1 Z" fill="#eeeef0" stroke="#000" stroke-width="1.3" />
<path d="M604.0,116.0 L612.0,124.0 L623.9,132.2 L796.1,37.8" fill="none" stroke="#000" stroke-width="0.7" />
<path d="M642.8,90.0 L658.3,83.3 L667.2,92.2 L651.7,100.0 Z" fill="none" stroke="#000" stroke-width="0.7" />
<path d="M712.8,51.1 L728.3,43.3 L737.2,53.3 L721.7,60.0 Z" fill="none" stroke="#000" stroke-width="0.7" />
<ellipse cx="700.6" cy="78.9" rx="6.5" ry="4.4" fill="none" stroke="#000" stroke-width="0.7"/>
<circle cx="701.5" cy="77.5" r="2.2" fill="none" stroke="#000" stroke-width="0.6"/>
<path d="M612.0,104.5 L618.0,101.5" fill="none" stroke="#000" stroke-width="2.2" />
<path d="M612.0,104.5 L618.0,101.5" fill="none" stroke="#eeeef0" stroke-width="0.8" />
<path d="M680.9,64.5 L686.9,61.5" fill="none" stroke="#000" stroke-width="2.2" />
<path d="M680.9,64.5 L686.9,61.5" fill="none" stroke="#eeeef0" stroke-width="0.8" />
<path d="M757.6,20.1 L763.6,17.1" fill="none" stroke="#000" stroke-width="2.2" />
<path d="M757.6,20.1 L763.6,17.1" fill="none" stroke="#eeeef0" stroke-width="0.8" />
<path d="M681.0,109.2 L691.0,103.7" fill="none" stroke="#000" stroke-width="0.8" />
<path d="M636.7,133.6 L646.7,128.1" fill="none" stroke="#000" stroke-width="0.8" />
<path d="M755.6,65.8 L765.6,60.3" fill="none" stroke="#000" stroke-width="0.8" />
<path d="M616.7,607.2 L869.4,461.6 L875.3,465.5 L887.0,471.4 L893.0,472.1 L901.6,467.5 L903.5,469.4 L907.5,486.5 L911.4,489.8 L925.9,494.4 L928.5,492.4 L933.7,493.1 L933.7,495.7 L941.6,499.6 L954.8,508.8 L696.4,656.8 L693.3,657.8 L687.8,655.6 L667.8,652.2 L652.2,650.6 L641.1,647.8 L630.6,641.1 L630.0,630.0 L629.4,622.2 L626.7,617.8 L623.3,616.7 L620.0,619.4 L617.2,617.8 Z" fill="#eeeef0" stroke="#000" stroke-width="1.4" />
<path d="M616.7,607.2 L622.0,611.0 L632.2,621.1" fill="none" stroke="#000" stroke-width="0.8" />
<path d="M632.2,621.1 L887.8,476.0" fill="none" stroke="#000" stroke-width="0.8" />
<path d="M648.9,636.7 L908.8,489.1" fill="none" stroke="#000" stroke-width="0.8" />
<path d="M630.6,641.1 L648.9,636.7" fill="none" stroke="#000" stroke-width="0.7" />
<path d="M665.6,631.1 L707.8,647.8" fill="none" stroke="#333" stroke-width="1.6" />
<path d="M672.2,626.7 L714.4,643.3" fill="none" stroke="#333" stroke-width="1.6" />
<path d="M889.1,501.6 L932.4,519.3" fill="none" stroke="#333" stroke-width="1.6" />
<path d="M895.7,497.7 L939.0,515.4" fill="none" stroke="#333" stroke-width="1.6" />
<path d="M640.0,620.0 L645.0,617.8 L656.7,630.0 L652.0,634.4 L643.0,628.0 L640.0,620.0" fill="none" stroke="#000" stroke-width="0.9" />
<path d="M644.0,621.0 L650.0,631.0" fill="none" stroke="#000" stroke-width="0.6" />
<path d="M647.0,620.0 L653.0,630.0" fill="none" stroke="#000" stroke-width="0.6" />
<path d="M893.0,472.1 L901.6,467.5 L903.5,469.4 L907.5,486.5 L900.9,490.5 L893.7,483.2 L893.0,472.1" fill="none" stroke="#000" stroke-width="0.9" />
<path d="M896.0,474.0 L900.0,487.0" fill="none" stroke="#000" stroke-width="0.6" />
<path d="M899.0,472.0 L903.0,485.0" fill="none" stroke="#000" stroke-width="0.6" />
<path d="M876.0,468.0 L880.0,465.0 L886.0,467.0 L887.0,476.0 L882.0,478.0 L877.0,474.0" fill="none" stroke="#000" stroke-width="0.8" />
<path d="M925.0,496.0 L928.0,492.6 L933.5,493.5 L932.0,498.0" fill="none" stroke="#000" stroke-width="0.8" />
<path d="M671.5,641.0 L675.5,638.0 L681.5,639.0 L677.5,642.0 Z" fill="none" stroke="#000" stroke-width="0.7" />
<path d="M740.0,602.3 L744.0,599.3 L750.0,600.3 L746.0,603.3 Z" fill="none" stroke="#000" stroke-width="0.7" />
<path d="M842.0,540.6 L846.0,537.6 L852.0,538.6 L848.0,541.6 Z" fill="none" stroke="#000" stroke-width="0.7" />
<path d="M910.0,500.0 L914.0,497.0 L920.0,498.0 L916.0,501.0 Z" fill="none" stroke="#000" stroke-width="0.7" />
<circle cx="634.4" cy="630.6" r="2.2" fill="none" stroke="#000" stroke-width="0.7"/>
<circle cx="668.3" cy="648.3" r="2.0" fill="none" stroke="#000" stroke-width="0.7"/>
<path d="M743.3,560.6 L786.7,538.3 L795.9,548.8" fill="none" stroke="#000" stroke-width="0.9" />
<path d="M743.3,560.6 L752.0,572.0" fill="none" stroke="#000" stroke-width="0.9" />
<path d="M753.8,575.0 L799.8,548.8 L812.9,548.8 L820.8,560.6 L778.8,582.9 L769.6,580.3 L753.8,575.0" fill="#eeeef0" stroke="#000" stroke-width="0.9" />
<path d="M760.0,578.0 L806.0,553.0 L814.0,558.0 L772.0,580.0" fill="none" stroke="#000" stroke-width="0.8" />
<path d="M770.0,580.3 L770.0,572.0 L808.0,551.0" fill="none" stroke="#000" stroke-width="0.8" />
<path d="M755.0,575.0 L758.0,570.0 L766.0,572.0 L764.0,578.0" fill="none" stroke="#000" stroke-width="0.8" />
<path d="M803.0,549.0 L808.0,545.0 L815.0,549.0 L811.0,553.0" fill="none" stroke="#000" stroke-width="0.8" />
<circle cx="762" cy="565" r="1.0" fill="none" stroke="#000" stroke-width="0.6"/>
<path d="M791.9,525.2 L818.2,514.6" fill="none" stroke="#333" stroke-width="1.3" />
<path d="M690.0,583.0 L713.0,571.0" fill="none" stroke="#333" stroke-width="1.3" />
<path d="M712,574 Q718,580 722,589 L725,587 Q721,578 715,572 Z" fill="none" stroke="#000" stroke-width="0.7" />
<path d="M701.0,522.0 L749.0,529.5" fill="none" stroke="#000" stroke-width="0.7" />
<path d="M65.4,1091.3 L390.9,911.6 L387.3,905.0 L61.8,1084.7 Z" fill="#eeeef0" stroke="#000" stroke-width="1.3" />
<ellipse cx="63.6" cy="1088.0" rx="2.6" ry="3.8" transform="rotate(-29 63.6 1088.0)" fill="#eeeef0" stroke="#000" stroke-width="1.1"/>
<ellipse cx="389.1" cy="908.3240000000001" rx="2.6" ry="3.8" transform="rotate(-29 389.1 908.3240000000001)" fill="#eeeef0" stroke="#000" stroke-width="1.1"/>
<path d="M163.5,1045.2 L176.6,1037.9 L165.5,1017.8 L152.4,1025.1 Z" fill="#eeeef0" stroke="#000" stroke-width="1.2" />
<ellipse cx="171.1" cy="1027.9" rx="5" ry="11.5" transform="rotate(-29 171.1 1027.9)" fill="#eeeef0" stroke="#000" stroke-width="1.2"/>
<ellipse cx="157.9" cy="1035.1" rx="5" ry="11.5" transform="rotate(-29 157.9 1035.1)" fill="#eeeef0" stroke="#000" stroke-width="1.2"/>
<ellipse cx="157.9" cy="1035.1" rx="2" ry="4.5" transform="rotate(-29 157.9 1035.1)" fill="#eeeef0" stroke="#000" stroke-width="0.8"/>
<path d="M281.0,976.7 L294.1,969.4 L283.0,949.3 L269.9,956.6 Z" fill="#eeeef0" stroke="#000" stroke-width="1.2" />
<ellipse cx="288.6" cy="959.4" rx="5" ry="11.5" transform="rotate(-29 288.6 959.4)" fill="#eeeef0" stroke="#000" stroke-width="1.2"/>
<ellipse cx="275.4" cy="966.6" rx="5" ry="11.5" transform="rotate(-29 275.4 966.6)" fill="#eeeef0" stroke="#000" stroke-width="1.2"/>
<ellipse cx="275.4" cy="966.6" rx="2" ry="4.5" transform="rotate(-29 275.4 966.6)" fill="#eeeef0" stroke="#000" stroke-width="0.8"/>
<path d="M284.0,950.0 L293.0,921.5" fill="none" stroke="#000" stroke-width="0.7" />
<path d="M90.3,1126.8 L156.4,1090.9 L158.2,1092.7 L174.5,1083.6 L176.4,1080.0 L270.9,1027.3 L274.5,1025.5 L289.1,1018.2 L292.7,1014.5 L358.2,976.4 L356.0,970.0 L356.0,958.0 L360.0,953.5 L365.5,953.5 L372.7,963.6 L387.3,980.0 L389.1,987.3 L381.8,994.5 L383.6,998.2 L392.7,1007.3 L410.9,1001.8 L410.5,1004.5 L118.6,1169.7 L103.4,1160.6 L100.4,1156.6 L97.4,1157.6 L81.2,1137.4 L80.2,1133.3 L72.1,1126.3 L70.6,1120.2 L72.1,1115.2 L77.2,1112.6 L83.2,1115.2 Z" fill="#eeeef0" stroke="#000" stroke-width="1.3" />
<path d="M100.4,1156.6 L110.5,1142.4 L103.4,1130.3 L97.4,1134.8 L90.3,1126.8" fill="none" stroke="#000" stroke-width="1.0" />
<circle cx="77.2" cy="1122.7" r="4.0" fill="#fff" stroke="#000" stroke-width="0.9"/>
<circle cx="361.5" cy="959.5" r="3.6" fill="#fff" stroke="#000" stroke-width="0.9"/>
<ellipse cx="102.9" cy="1138.9" rx="1.4" ry="2.2" fill="#fff" stroke="#000" stroke-width="0.7"/>
<path d="M104.4,1160.6 L383.6,1002.0" fill="none" stroke="#000" stroke-width="0.7" />
<path d="M112.0,1164.0 L410.5,1004.5" fill="none" stroke="#000" stroke-width="0.6" />
<path d="M120.0,1166.0 L408.0,1005.0" fill="none" stroke="#888" stroke-width="1.4" />
<path d="M263.6,1089.0 L321.8,1100.0" fill="none" stroke="#000" stroke-width="0.7" />
<path d="M102.8,920.0 L102.8,993.0 L42.2,1027.0 L42.2,1142.0 L72.0,1126.0" fill="none" stroke="#444" stroke-width="0.7" />
<path d="M51.4,1095.0 L103.8,1087.5 L103.8,1110.0 L51.4,1116.3 L51.4,1095.0" fill="none" stroke="#444" stroke-width="0.7" />
<path d="M344.6,748.0 L344.6,851.6 L413.3,813.3 L413.3,930.0 L369.0,954.0" fill="none" stroke="#444" stroke-width="0.7" />
<path d="M389.8,899.6 L404.5,891.8 L404.5,913.3 L392.0,920.0" fill="none" stroke="#444" stroke-width="0.7" />
<path d="M370.0,948.0 L343.3,961.0 L343.3,970.2 L356.0,964.0" fill="none" stroke="#444" stroke-width="0.7" />
<g transform="translate(561.8,856.1) rotate(-28) scale(1.0)"><path d="M2,-2 L5,-2.2 L5.5,-1.6 L6.5,-2 L7,-1.4 L8,-1.6 L10.5,-1 L11,0 L10.5,1 L8,1.6 L7,1.4 L6.5,2 L5.5,1.6 L5,2.2 L2,2 Z" fill="#fff" stroke="#000" stroke-width="0.9"/><ellipse cx="0" cy="0" rx="4.2" ry="5.2" fill="#fff" stroke="#000" stroke-width="1.3"/><ellipse cx="-0.8" cy="0" rx="2.6" ry="3.4" fill="none" stroke="#000" stroke-width="0.8"/><path d="M-1.2,-1.5 L-0.4,1.5 M-1.8,0.4 L0.4,-0.4" stroke="#000" stroke-width="0.6"/></g>
<g transform="translate(610.3,883.5) rotate(-28) scale(1.0)"><path d="M2,-2 L5,-2.2 L5.5,-1.6 L6.5,-2 L7,-1.4 L8,-1.6 L10.5,-1 L11,0 L10.5,1 L8,1.6 L7,1.4 L6.5,2 L5.5,1.6 L5,2.2 L2,2 Z" fill="#fff" stroke="#000" stroke-width="0.9"/><ellipse cx="0" cy="0" rx="4.2" ry="5.2" fill="#fff" stroke="#000" stroke-width="1.3"/><ellipse cx="-0.8" cy="0" rx="2.6" ry="3.4" fill="none" stroke="#000" stroke-width="0.8"/><path d="M-1.2,-1.5 L-0.4,1.5 M-1.8,0.4 L0.4,-0.4" stroke="#000" stroke-width="0.6"/></g>
<path d="M572.8,850.4 L621.8,823.0" fill="none" stroke="#000" stroke-width="0.7" />
<path d="M621.8,877.2 L667.0,850.0" fill="none" stroke="#000" stroke-width="0.7" />
<path d="M565.2,860.9 L572.4,903.6 L605.0,885.9" fill="none" stroke="#000" stroke-width="0.7" />
<g transform="translate(935.5,45.3) rotate(153) scale(0.75)"><path d="M2,-2 L5,-2.2 L5.5,-1.6 L6.5,-2 L7,-1.4 L8,-1.6 L10.5,-1 L11,0 L10.5,1 L8,1.6 L7,1.4 L6.5,2 L5.5,1.6 L5,2.2 L2,2 Z" fill="#fff" stroke="#000" stroke-width="0.9"/><ellipse cx="0" cy="0" rx="4.2" ry="5.2" fill="#fff" stroke="#000" stroke-width="1.3"/><ellipse cx="-0.8" cy="0" rx="2.6" ry="3.4" fill="none" stroke="#000" stroke-width="0.8"/><path d="M-1.2,-1.5 L-0.4,1.5 M-1.8,0.4 L0.4,-0.4" stroke="#000" stroke-width="0.6"/></g>
<path d="M918.1,29.3 L932.8,43.7" fill="none" stroke="#000" stroke-width="0.7" />
<path d="M927.0,50.5 L880.0,80.0" fill="none" stroke="#000" stroke-width="0.7" />
<g transform="translate(784.5,237) rotate(-90) scale(0.85)"><path d="M2,-2 L5,-2.2 L5.5,-1.6 L6.5,-2 L7,-1.4 L8,-1.6 L10.5,-1 L11,0 L10.5,1 L8,1.6 L7,1.4 L6.5,2 L5.5,1.6 L5,2.2 L2,2 Z" fill="#fff" stroke="#000" stroke-width="0.9"/><ellipse cx="0" cy="0" rx="4.2" ry="5.2" fill="#fff" stroke="#000" stroke-width="1.3"/><ellipse cx="-0.8" cy="0" rx="2.6" ry="3.4" fill="none" stroke="#000" stroke-width="0.8"/><path d="M-1.2,-1.5 L-0.4,1.5 M-1.8,0.4 L0.4,-0.4" stroke="#000" stroke-width="0.6"/></g>
<path d="M785.0,165.5 L785.0,230.0" fill="none" stroke="#000" stroke-width="0.7" />
<path d="M790.0,232.7 L806.0,228.4" fill="none" stroke="#000" stroke-width="0.7" />
<path d="M128.9,420.3 L128.9,361.3 L138.6,309.5 L141.0,306.3 L255.8,306.3 L259.8,310.4 L259.8,319.2 L262.2,324.1 L268.7,325.7 L274.3,322.5 L276.8,317.6 L280.0,316.8 L287.2,316.2 L288.0,313.7 L298.5,313.7 L299.3,314.5 L317.1,314.2 L317.9,316.2 L317.9,326.7 L338.1,326.7 L338.9,320.2 L344.5,320.2 L345.4,326.7 L353.4,326.7 L354.2,332.3 L379.3,332.3 L396.3,369.5 L396.3,432.8" fill="none" stroke="#000" stroke-width="1.3" />
<path d="M128.9,420.3 L160.4,420.3 L162.3,417.8 L162.3,409.7 L240.0,409.7" fill="none" stroke="#000" stroke-width="1.3" />
<path d="M129.7,414.6 L157.2,414.6 L158.0,404.9 L160.4,403.3 L240.0,403.3" fill="none" stroke="#000" stroke-width="0.8" />
<path d="M254.0,432.8 L396.3,432.8" fill="none" stroke="#000" stroke-width="1.3" />
<path d="M210.5,403.3 L210.5,324.1 L207.3,321.7 L165.3,321.7 L165.3,327.3 L205.7,327.3 L205.7,403.3" fill="none" stroke="#8a8a8a" stroke-width="0.8" />
<path d="M210.5,342.7 L238.8,342.7 L238.8,348.3 L210.5,348.3" fill="none" stroke="#8a8a8a" stroke-width="0.8" />
<path d="M181.4,307.1 L199.2,307.1 L199.2,311.2 L181.4,311.2 Z" fill="none" stroke="#8a8a8a" stroke-width="0.8" />
<path d="M153.9,334.6 L176.6,334.6 L176.6,341.1 L153.9,341.1 Z" fill="none" stroke="#8a8a8a" stroke-width="0.8" />
<path d="M153.9,341.1 L176.6,341.1 L176.6,346.7 L153.9,346.7 Z" fill="none" stroke="#000" stroke-width="1.1" />
<circle cx="162.8" cy="359.6" r="4.6" fill="none" stroke="#000" stroke-width="0.8"/>
<circle cx="189.5" cy="360.5" r="5.0" fill="none" stroke="#000" stroke-width="0.8"/>
<path d="M171.7,404.1 L183.4,404.1 L183.4,409.0 L171.7,409.0 Z" fill="none" stroke="#000" stroke-width="0.8" />
<path d="M254.0,432.8 L254.0,333.1 L275.9,333.1 L282.3,330.7 L286.4,325.9 L287.2,316.2" fill="none" stroke="#000" stroke-width="1.1" />
<path d="M317.9,326.7 L317.9,332.3 L323.5,332.3 L323.5,432.8" fill="none" stroke="#000" stroke-width="1.1" />
<path d="M301.0,314.0 L301.0,323.0 L304.0,323.0 L304.0,314.0" fill="none" stroke="#000" stroke-width="0.8" />
<path d="M302.5,323.0 L302.5,347.0" fill="none" stroke="#000" stroke-width="0.9" />
<path d="M296.5,349.2 L309.0,347.4" fill="none" stroke="#000" stroke-width="1.1" />
<path d="M296.5,351.4 L309.0,349.6" fill="none" stroke="#000" stroke-width="1.1" />
<path d="M296.5,353.6 L309.0,351.8" fill="none" stroke="#000" stroke-width="1.1" />
<path d="M296.5,355.8 L309.0,354.0" fill="none" stroke="#000" stroke-width="1.1" />
<path d="M296.5,358.0 L309.0,356.2" fill="none" stroke="#000" stroke-width="1.1" />
<path d="M296.5,360.2 L309.0,358.4" fill="none" stroke="#000" stroke-width="1.1" />
<path d="M302.5,360.0 L302.5,371.0" fill="none" stroke="#000" stroke-width="0.9" />
<path d="M292.0,363.5 L313.0,363.5 L313.0,374.3 L292.0,374.3 Z" fill="none" stroke="#8a8a8a" stroke-width="0.8" />
<circle cx="312.2" cy="343.3" r="2.9" fill="none" stroke="#8a8a8a" stroke-width="0.8"/>
<path d="M264,348 Q261,346 261,352 L261,366 Q261,372 266,372 L276,368 L276,348 Z" fill="none" stroke="#8a8a8a" stroke-width="0.8" />
<circle cx="267" cy="360" r="3.5" fill="none" stroke="#8a8a8a" stroke-width="0.8"/>
<path d="M281,341 Q285,336 290,340 L289,370 Q285,375 281,370 Z" fill="none" stroke="#8a8a8a" stroke-width="0.8" />
<path d="M283.0,362.0 L283.0,368.0" fill="none" stroke="#8a8a8a" stroke-width="1.2" />
<path d="M334.8,342.0 L353.4,342.0 L356.7,345.3 L356.7,371.1" fill="none" stroke="#8a8a8a" stroke-width="0.8" />
<path d="M334.8,342.0 L334.8,346.8 L351.2,346.8 L351.2,371.1" fill="none" stroke="#8a8a8a" stroke-width="0.8" />
<path d="M356.7,353.3 L375.3,353.3 L375.3,359.0 L356.7,359.0 Z" fill="none" stroke="#000" stroke-width="1.0" />
<path d="M350.2,371.1 L401.9,371.1 L401.9,377.6 L350.2,377.6 Z" fill="none" stroke="#000" stroke-width="1.0" />
<path d="M396.3,371.1 L396.3,377.6" fill="none" stroke="#000" stroke-width="0.8" />
<circle cx="365.6" cy="411.5" r="15.2" fill="none" stroke="#000" stroke-width="0.8"/>
<circle cx="365.6" cy="411.5" r="9.5" fill="none" stroke="#000" stroke-width="0.8"/>
<circle cx="275" cy="393" r="3.8" fill="none" stroke="#000" stroke-width="0.8"/>
<circle cx="275" cy="422" r="3.2" fill="none" stroke="#000" stroke-width="0.8"/>
<path d="M288.3,406.0 L288.3,395.3 L321.1,395.3 L321.1,400.5 L296.0,400.5 L294.5,404.0 L291.0,406.5 L288.3,406.0" fill="none" stroke="#222" stroke-width="0.8" />
<path d="M296,400.5 L296,412 Q298,420 305,420.5 Q314,420 315,412 L315,400.5" fill="none" stroke="#444" stroke-width="0.8" />
<path d="M302,411 L302,414 Q305,416 309,414 L309,411" fill="none" stroke="#444" stroke-width="0.7" />
<circle cx="305.6" cy="405.3" r="5.3" fill="#fff" stroke="#000" stroke-width="1.4"/>
<path d="M303.0,405.3 L308.2,405.3" fill="none" stroke="#000" stroke-width="0.9" />
<path d="M305.6,402.7 L305.6,407.9" fill="none" stroke="#000" stroke-width="0.9" />
<path d="M305.3,385.3 A20,20 0 1 1 285.3,406.5" fill="none" stroke="#000" stroke-width="3.8" stroke-linecap="butt"/>
<path d="M305.5,377.5 L305.8,390.0 L288.6,391.0 Z" fill="#000" stroke="none" stroke-width="0" />
<path d="M255.0,412.0 L260.3,416.4 L263.9,426.1 L276.1,435.8 L295.5,444.2 L302.7,450.3 L336.7,450.3 L360.9,421.2" fill="none" stroke="#000" stroke-width="0.8" stroke-dasharray="2.5 1.8"/>
<path d="M238.0,410.0 L262.0,418.0 L272.0,432.0 L296.0,440.0" fill="none" stroke="#000" stroke-width="0.7" stroke-dasharray="2.5 1.8"/>
<path d="M360.0,425.0 L340.0,445.0 L300.0,446.0" fill="none" stroke="#000" stroke-width="0.7" stroke-dasharray="2.5 1.8"/>
<path d="M308.2,409.9 L356.7,461.7" fill="none" stroke="#000" stroke-width="0.8" />
<path d="M232.4,404.2 L196.1,441.8 L203.3,437.0 L239.7,468.5 L253.0,457.6 L253.0,452.7 L243.3,444.2 L243.3,437.0 L266.4,412.7" fill="#eeeeee" stroke="#000" stroke-width="1.3" />
<circle cx="251.8" cy="403" r="15.5" fill="#eeeeee" stroke="#000" stroke-width="1.3"/>
<path d="M236.0,414.0 L243.3,437.0" fill="none" stroke="none" stroke-width="0" />
<path d="M235.5,407 L200,441 L204,440 L239.7,468.5 L253,457.6 L253,452.7 L243.3,444.2 L243.3,437 L262,418 Z" fill="#eeeeee" stroke="none" stroke-width="0" />
<path d="M235.5,407.0 L196.1,443.0 L203.0,438.0 L239.7,468.5 L253.0,457.6 L253.0,452.7 L243.3,444.2 L243.3,437.0 L262.0,417.0" fill="none" stroke="#000" stroke-width="1.3" />
<circle cx="251.8" cy="403" r="8.5" fill="#eeeeee" stroke="#000" stroke-width="1.3"/>
<circle cx="230" cy="437" r="5.2" fill="none" stroke="#000" stroke-width="0.9"/>
<circle cx="239.2" cy="455.2" r="3.3" fill="none" stroke="#000" stroke-width="0.9"/>
<path d="M232.0,406.0 L235.0,403.0 L236.5,405.0 L234.0,408.0" fill="none" stroke="#000" stroke-width="0.9" />
<path d="M196.1,443.0 L188.8,475.8 L211.8,506.0" fill="none" stroke="#000" stroke-width="3.0" />
<path d="M196.1,443.0 L188.8,475.8 L211.8,506.0" fill="none" stroke="#fff" stroke-width="1.0" />
<path d="M157.3,468.5 L190.0,462.4" fill="none" stroke="#000" stroke-width="0.7" />
<path d="M316.5,473.5 L318.5,479.5 Q303,491 285.5,493.5 L286,497 L259,496.5 L281,482 L282.5,486.5 Q300,484 316.5,473.5 Z" fill="#000" stroke="none" stroke-width="0" />
<path d="M715.4,319.8 L752.7,319.8 L752.7,343 Q752.7,346 749.7,346 L718.4,346 Q715.4,346 715.4,343 Z" fill="#eeeef0" stroke="#000" stroke-width="0.9" />
<circle cx="731.7" cy="337.5" r="4.3" fill="none" stroke="#000" stroke-width="0.8"/>
<path d="M730.4,316.0 L730.4,284.4 L735.6,284.4 L735.6,260.8 L739.5,260.8 L739.5,267.3 L751.4,285.7 L772.4,291.0 L797.3,287.0 L828.8,281.8 L849.8,279.7 L888.0,283.0 L888.0,287.0 L828.8,298.8" fill="none" stroke="#000" stroke-width="0.9" />
<path d="M730.4,316.0 L797.0,302.0 L828.0,294.0" fill="none" stroke="#000" stroke-width="0.9" />
<path d="M682.0,313.0 L687.0,318.5 L691.0,319.5 L762.0,321.0 L797.0,311.0 L828.0,301.0" fill="none" stroke="#000" stroke-width="0.9" />
<path d="M678.0,312.0 L683.0,315.0 L762.0,317.5 L800.0,307.0" fill="none" stroke="#000" stroke-width="0.9" />
<path d="M698.0,286.0 L707.0,287.0 L714.0,293.0 L717.0,312.0 L730.0,312.0" fill="none" stroke="#000" stroke-width="0.9" />
<path d="M699.0,296.0 L707.0,300.0 L712.0,308.0 L712.0,316.0" fill="none" stroke="#000" stroke-width="0.9" />
<circle cx="680.5" cy="291" r="18.4" fill="none" stroke="#000" stroke-width="1.4"/>
<circle cx="813" cy="295" r="18" fill="none" stroke="#000" stroke-width="1.4"/>
<path d="M679.0,285.5 L681.5,285.5 L681.5,306.5 L679.0,306.5 Z" fill="none" stroke="#000" stroke-width="0.9" />
<path d="M681.5,285.7 L698.0,285.7" fill="none" stroke="#000" stroke-width="0.9" />
<path d="M806.0,296.0 L806.0,307.0 L810.0,307.0 L810.0,293.0 L814.0,290.0 L818.0,288.0" fill="none" stroke="#000" stroke-width="0.9" />
<path d="M810.0,301.0 L824.0,298.0" fill="none" stroke="#000" stroke-width="0.9" />
<path d="M808.0,309.0 L825.0,305.0" fill="none" stroke="#000" stroke-width="0.9" />
</svg>
</body></html>
